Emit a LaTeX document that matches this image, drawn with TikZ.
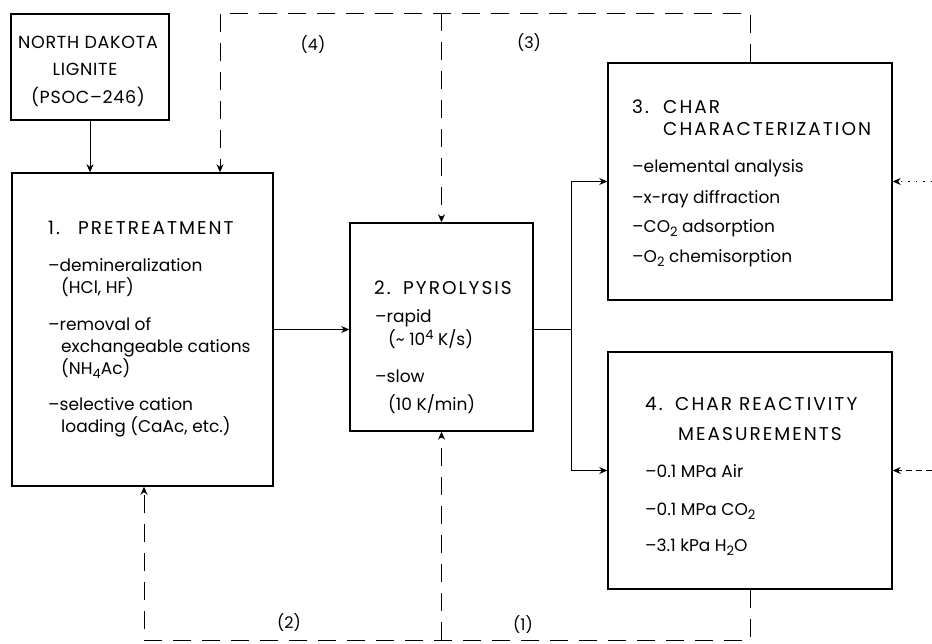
\documentclass[tikz,border=0pt]{standalone}
\usepackage{fontspec}
\setmainfont{Poppins}
\newfontfamily\capsfont[LetterSpace=11]{Poppins}
\newfontfamily\namefont[LetterSpace=4]{Poppins}
\usetikzlibrary{arrows.meta}
\newcommand\lowidx[1]{\raisebox{-4pt}{\fontsize{13}{13}\selectfont #1}}
\newcommand\highidx[1]{\raisebox{6pt}{\fontsize{13}{13}\selectfont #1}}
\tikzset{
  box/.style={draw=black,line width=1.5pt,inner sep=0pt},
  ttl/.style={anchor=base west,inner sep=0pt,font=\capsfont\fontsize{18.5}{22}\selectfont},
  coaltxt/.style={anchor=base,inner sep=0pt,font=\namefont\fontsize{17.5}{21}\selectfont},
  lbl/.style={anchor=base west,inner sep=0pt,font=\fontsize{17}{20}\selectfont},
  tag/.style={inner sep=0pt,font=\fontsize{16}{19}\selectfont},
  arr/.style={-{Stealth[length=8pt,width=7pt]},line width=0.9pt},
  feed/.style={arr,dash pattern=on 18pt off 11pt},
}

\begin{document}
\begin{tikzpicture}[x=1pt,y=-1pt]
  \useasboundingbox (0,0) rectangle (932,643);
  % boxes
  \node[box,minimum width=158pt,minimum height=106pt] (lignite) at (90,67) {};
  \node[box,minimum width=261pt,minimum height=313pt] (pretreat) at (142.5,329.5) {};
  \node[box,minimum width=183pt,minimum height=208pt] (pyro) at (441.5,327) {};
  \node[box,minimum width=284pt,minimum height=237pt] (charchar) at (750,181.5) {};
  \node[box,minimum width=284pt,minimum height=237pt] (react) at (750,470.5) {};

  % box texts
  \node[coaltxt] (lg-1) at (88,48) {NORTH DAKOTA};
  \node[coaltxt] (lg-2) at (85,75) {LIGNITE};
  \node[coaltxt] (lg-3) at (88,103) {(PSOC\textendash 246)};

  \node[ttl] (pt-num) at (48,234) {1.};
  \node[ttl] (pt-ttl) at (78,234) {PRETREATMENT};
  \node[lbl] (pt-a1) at (48,271) {--demineralization};
  \node[lbl] (pt-a2) at (61,293) {(HCl, HF)};
  \node[lbl] (pt-b1) at (48,330) {--removal of};
  \node[lbl] (pt-b2) at (61,352) {exchangeable cations};
  \node[lbl] (pt-b3) at (61,374) {(NH\lowidx{4}Ac)};
  \node[lbl] (pt-c1) at (48,410) {--selective cation};
  \node[lbl] (pt-c2) at (61,432) {loading (CaAc, etc.)};

  \node[ttl] (py-num) at (374,294) {2.};
  \node[ttl] (py-ttl) at (403,294) {PYROLYSIS};
  \node[lbl] (py-a1) at (375,322) {--rapid};
  \node[lbl] (py-a2) at (388,345) {(\textasciitilde\ 10\highidx{4} K/s)};
  \node[lbl] (py-b1) at (375,382) {--slow};
  \node[lbl] (py-b2) at (388,410) {(10 K/min)};

  \node[ttl] (cc-num) at (632,113) {3.};
  \node[ttl] (cc-t1) at (663,113) {CHAR};
  \node[ttl] (cc-t2) at (663,135) {CHARACTERIZATION};
  \node[lbl] (cc-a) at (632,172) {--elemental analysis};
  \node[lbl] (cc-b) at (632,203) {--x-ray diffraction};
  \node[lbl] (cc-c) at (632,232) {--CO\lowidx{2} adsorption};
  \node[lbl] (cc-d) at (632,262) {--O\lowidx{2} chemisorption};

  \node[ttl] (re-num) at (645,410) {4.};
  \node[ttl] (re-t1) at (675,410) {CHAR REACTIVITY};
  \node[ttl] (re-t2) at (678,440) {MEASUREMENTS};
  \node[lbl] (re-a) at (645,477) {--0.1 MPa Air};
  \node[lbl] (re-b) at (645,515) {--0.1 MPa CO\lowidx{2}};
  \node[lbl] (re-c) at (645,551) {--3.1 kPa H\lowidx{2}O};

  % main flow
  \draw[arr] (lignite.south) -- (lignite.south |- pretreat.north);
  \draw[arr] (pretreat.east) -- (pretreat.east -| pyro.west);
  \coordinate (split) at (571,329);
  \draw[line width=0.9pt] (pyro.east |- split) -- (split);
  \draw[arr] (split) |- (charchar.west);
  \draw[arr] (split) |- (react.west);

  % recycle loops
  \coordinate (topleft) at (220,13);
  \coordinate (botleft) at (144,640);
  \draw[feed] (charchar.north) |- (topleft) -- (topleft |- pretreat.north);
  \draw[feed] (pyro.north |- topleft) -- (pyro.north);
  \draw[feed] (react.south) |- (botleft) -- (botleft |- pretreat.south);
  \draw[feed] (pyro.south |- botleft) -- (pyro.south);
  \node[tag] (lab4) at (313,45) {(4)};
  \node[tag] (lab3) at (529,43) {(3)};
  \node[tag] (lab2) at (289,623) {(2)};
  \node[tag] (lab1) at (523,625) {(1)};

  % inputs from the right
  \coordinate (edge3) at (932,181.5);
  \coordinate (edge4) at (932,470.5);
  \draw[arr,dash pattern=on 1.5pt off 6pt] (edge3) -- (charchar.east);
  \draw[arr,dash pattern=on 6pt off 4pt] (edge4) -- (react.east);
\end{tikzpicture}
\end{document}
